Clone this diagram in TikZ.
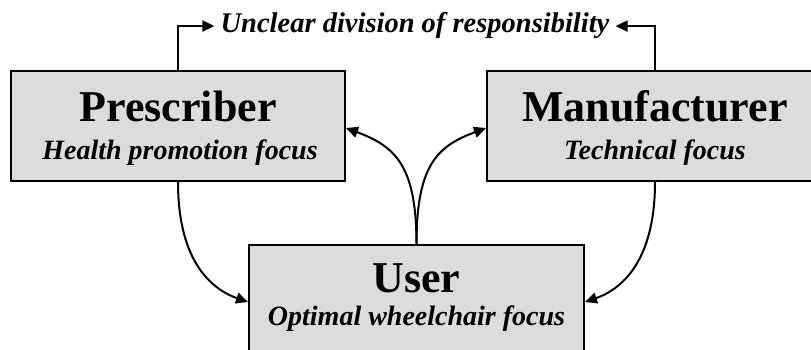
\documentclass[tikz,border=0pt]{standalone}
\usepackage{fontspec}
\setmainfont{Liberation Serif}
\usetikzlibrary{arrows.meta}
\definecolor{boxgray}{HTML}{DCDCDC}
\tikzset{
  box/.style={draw=black, line width=2pt, fill=boxgray, rectangle, inner sep=0pt},
  titletext/.style={font=\fontsize{44}{48}\selectfont\bfseries, anchor=base, inner sep=0pt},
  subtext/.style={font=\fontsize{28}{32}\selectfont\bfseries\itshape, anchor=base, inner sep=0pt},
  conn/.style={line width=2pt, -{Triangle[length=12pt,width=11pt]}}
}
\begin{document}
\begin{tikzpicture}[x=1pt,y=-1pt]
\useasboundingbox (0,0) rectangle (811,350);
\clip (0,0) rectangle (811,350);
\fill[white] (0,0) rectangle (811,350);
% boxes
\node[box, minimum width=334pt, minimum height=110pt] (pres) at (178,126) {};
\node[box, minimum width=336pt, minimum height=110pt] (manu) at (655,126) {};
\node[box, minimum width=335pt, minimum height=120pt] (user) at (416.5,305) {};
% texts
\node[titletext] (prestitle) at (178,122) {Prescriber};
\node[subtext] (pressub) at (180,160) {Health promotion focus};
\node[titletext] (manutitle) at (655,122) {Manufacturer};
\node[subtext] (manusub) at (655,160) {Technical focus};
\node[titletext] (usertitle) at (416.5,292) {User};
\node[subtext] (usersub) at (416.5,325) {Optimal wheelchair focus};
\node[font=\fontsize{28.5}{32}\selectfont\bfseries\itshape, anchor=base, inner xsep=6pt, inner ysep=0pt] (unclear) at (415,33) {Unclear division of responsibility};
% connectors
\draw[conn] (pres.north) |- (unclear.west);
\draw[conn] (manu.north) |- (unclear.east);
\draw[conn] (user.north) .. controls +(0,-80) and +(48,18) .. ([yshift=-2pt]pres.east);
\draw[conn] (user.north) .. controls +(0,-80) and +(-48,18) .. ([yshift=-2pt]manu.west);
\draw[conn] (pres.south) .. controls +(0,75) and +(-40,-14) .. ([yshift=3pt]user.west);
\draw[conn] (manu.south) .. controls +(0,75) and +(40,-14) .. ([yshift=3pt]user.east);
\end{tikzpicture}
\end{document}
